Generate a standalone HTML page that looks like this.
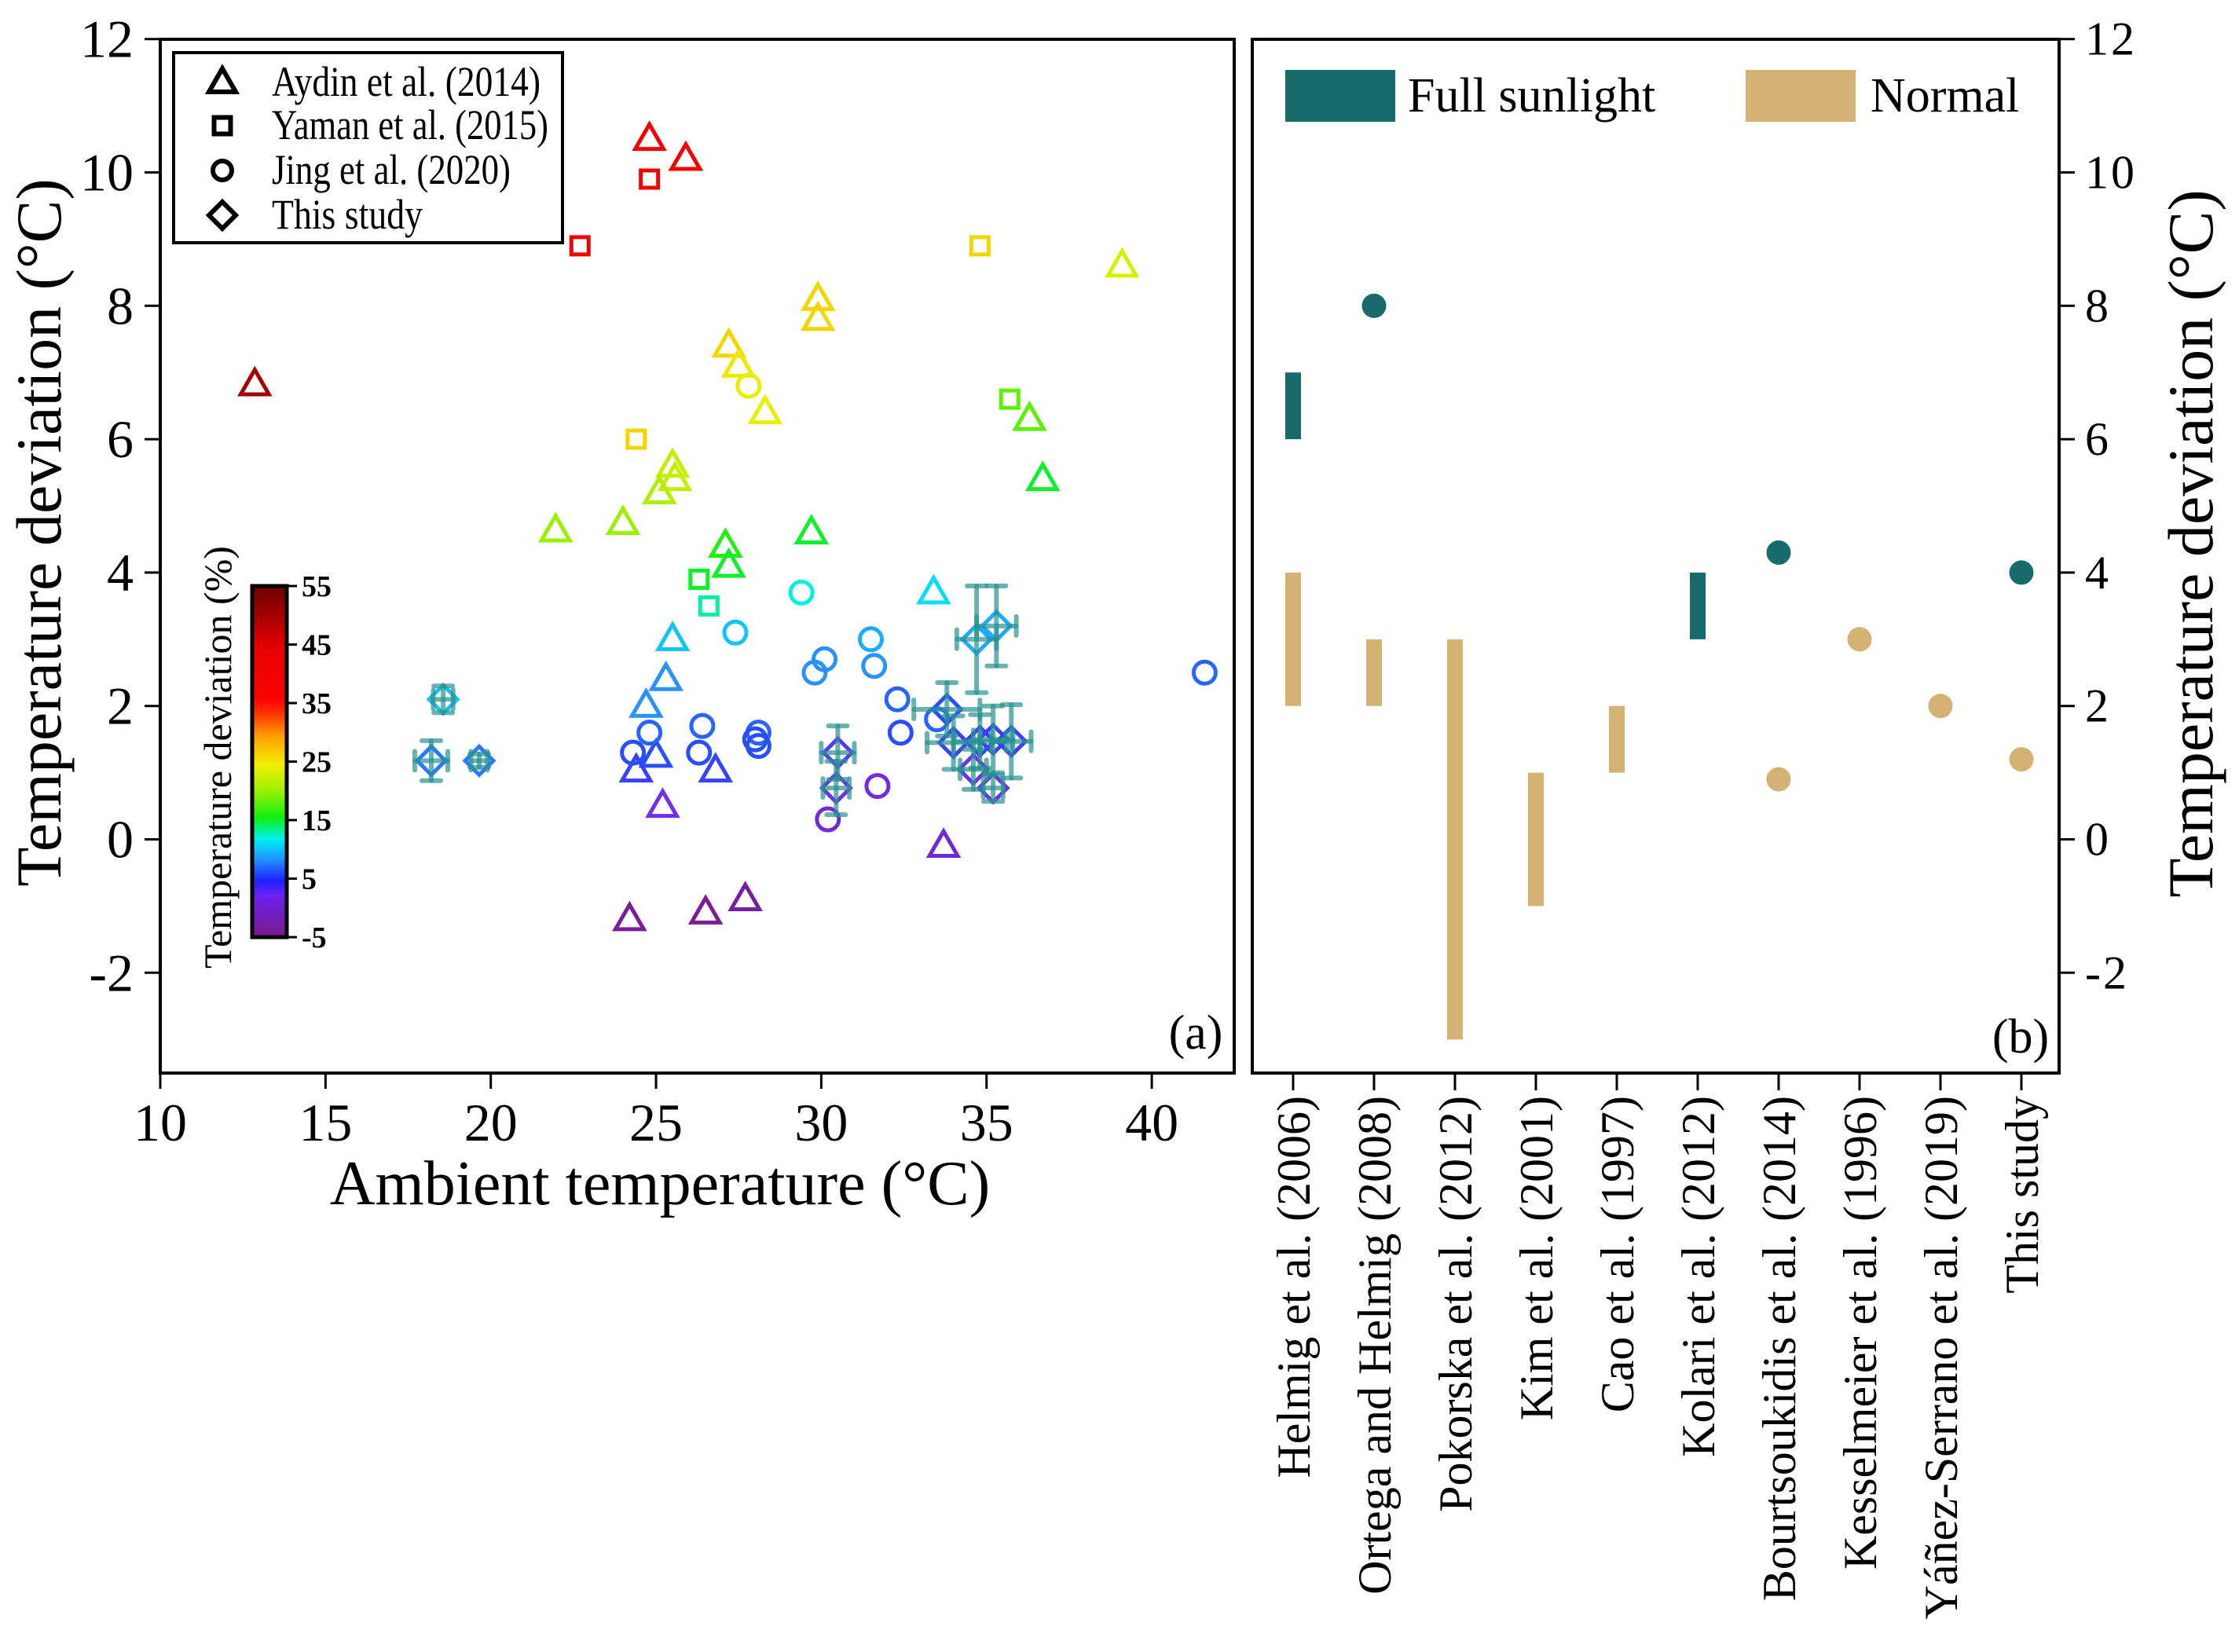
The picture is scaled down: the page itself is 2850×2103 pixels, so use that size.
<!DOCTYPE html>
<html><head><meta charset="utf-8"><style>
html,body{margin:0;padding:0;background:#fff}
svg{display:block;font-family:"Liberation Serif",serif}
</style></head><body>
<svg id="chart" width="2850" height="2103" viewBox="0 0 2850 2103" xmlns="http://www.w3.org/2000/svg">
<defs>
<linearGradient id="cbar" x1="0" y1="1" x2="0" y2="0">
<stop offset="0" stop-color="#7a1a8a"/>
<stop offset="0.12" stop-color="#6a20f0"/>
<stop offset="0.16" stop-color="#2020ff"/>
<stop offset="0.22" stop-color="#2090ff"/>
<stop offset="0.28" stop-color="#00f0f0"/>
<stop offset="0.34" stop-color="#10f010"/>
<stop offset="0.42" stop-color="#a0f000"/>
<stop offset="0.49" stop-color="#f0f000"/>
<stop offset="0.57" stop-color="#ffa000"/>
<stop offset="0.64" stop-color="#ff3000"/>
<stop offset="0.68" stop-color="#ff0000"/>
<stop offset="0.82" stop-color="#e80000"/>
<stop offset="1" stop-color="#6a0000"/>
</linearGradient>
</defs>
<g id="panelA"></g>
<g id="panelB"></g>
</svg>
<script>
// ---- Panel (a) data ----
const triX = [12.86,24.8,25.9,21.96,24.0,25.5,25.57,25.1,27.2,27.5,28.3,29.9,29.9,39.1,36.3,36.7,29.7,27.1,27.2,33.4,25.5,25.3,24.7,25.0,24.4,26.8,25.2,33.7,24.2,26.5,27.7];
const triY = [6.82,10.5,10.2,4.63,4.74,5.6,5.4,5.2,7.4,7.1,6.4,8.1,7.8,8.6,6.3,5.4,4.6,4.4,4.1,3.7,3.0,2.4,2.0,1.25,1.03,1.03,0.5,-0.1,-1.2,-1.1,-0.9];
const triC = [50,40,40,20,20,22,22,21,26,25,24,26,26,23,18,15,15,16,15,11,10,8,8,5,4,4,2,0,-4,-4,-3];
const sqX = [24.8,22.7,24.4,34.8,35.7,26.3,26.6];
const sqY = [9.9,8.9,6.0,8.9,6.6,3.9,3.5];
const sqC = [40,40,26,26,18,15,13];
const ciX = [27.8,29.4,27.4,31.5,30.1,29.8,31.6,41.6,32.3,33.5,32.4,24.8,24.3,26.4,26.3,28.1,28.0,28.1,31.7,30.2];
const ciY = [6.8,3.7,3.1,3.0,2.7,2.5,2.6,2.5,2.1,1.8,1.6,1.6,1.3,1.7,1.3,1.6,1.5,1.4,0.8,0.3];
const ciC = [24,12,10,9,8,8,8,6,6,6,5,6,5,6,5,6,5,5,1,0];
const diX = [18.2,19.65,18.56,34.7,35.3,33.8,30.5,30.45,34.0,34.8,35.2,35.75,34.6,35.2];
const diY = [1.18,1.18,2.1,3.0,3.2,1.95,1.3,0.77,1.45,1.47,1.5,1.47,1.05,0.77];
const diC = [7,7,10,9,9,5,3,2,4,4,4,4,2,2];
const diXerr = [0.5,0.25,0.3,0.6,0.6,1.0,0.5,0.4,0.8,0.8,0.6,0.6,0.4,0.3];
const diYerr = [0.3,0.1,0.2,0.8,0.6,0.4,0.4,0.4,0.4,0.4,0.5,0.55,0.3,0.2];
const xTicksA = [10,15,20,25,30,35,40];
const yTicks = [-2,0,2,4,6,8,10,12];
const cbTicks = [-5,5,15,25,35,45,55];
// ---- Panel (b) data ----
const cats = ["Helmig et al. (2006)","Ortega and Helmig (2008)","Pokorska et al. (2012)","Kim et al. (2001)","Cao et al. (1997)","Kolari et al. (2012)","Bourtsoukidis et al. (2014)","Kesselmeier et al. (1996)","Yáñez-Serrano et al. (2019)","This study"];
const fullBarIdx = [0,5];
const fullBarLo = [6,3];
const fullBarHi = [7,4];
const fullDotIdx = [1,6,9];
const fullDotVal = [8,4.3,4];
const normBarIdx = [0,1,2,3,4];
const normBarLo = [2,2,-3,-1,1];
const normBarHi = [4,3,3,1,2];
const normDotIdx = [6,7,8,9];
const normDotVal = [0.9,3,2,1.2];

const NS="http://www.w3.org/2000/svg";
function mk(tag,attrs,parent,name,inter){const e=document.createElementNS(NS,tag);for(const k in attrs)e.setAttribute(k,attrs[k]);


parent.appendChild(e);return e;}
const A=document.getElementById('panelA'), B=document.getElementById('panelB');
const AX0=204, AX1=1571, TOP=50, BOT=1366;
function xA(v){return AX0+(v-10)*42.07;}
function yV(v){return 1068.5-v*84.9;}
const BX0=1594, BX1=2621;
function xB(i){return 1646+i*103;}

const cstops=[[-5,[122,26,138]],[2.2,[112,48,240]],[4.6,[40,70,255]],[8.2,[40,150,255]],[11.8,[0,240,240]],[15.4,[16,240,16]],[20.2,[160,240,0]],[24.4,[240,240,0]],[29.2,[255,160,0]],[33.4,[255,48,0]],[35.8,[255,0,0]],[44.2,[232,0,0]],[55,[106,0,0]]];
function cmap(v){if(v<=cstops[0][0])return 'rgb('+cstops[0][1]+')';for(let i=1;i<cstops.length;i++){if(v<=cstops[i][0]){const a=cstops[i-1],b=cstops[i];const t=(v-a[0])/(b[0]-a[0]);const c=a[1].map((x,j)=>Math.round(x+(b[1][j]-x)*t));return 'rgb('+c.join(',')+')';}}return 'rgb('+cstops[cstops.length-1][1]+')';}

mk('rect',{x:AX0,y:TOP,width:AX1-AX0,height:BOT-TOP,fill:'none',stroke:'#000','stroke-width':4},A,'panel-a-frame',false);
xTicksA.forEach(t=>{const x=xA(t);mk('line',{x1:x,y1:BOT,x2:x,y2:BOT+20,stroke:'#000','stroke-width':3},A,'x-tick',false);
const tx=mk('text',{x:x,y:1452,'font-size':68,'text-anchor':'middle'},A,'x-tick-label',false);tx.textContent=t;});
yTicks.forEach(t=>{const y=yV(t);mk('line',{x1:AX0-20,y1:y,x2:AX0,y2:y,stroke:'#000','stroke-width':3},A,'y-tick',false);
const tx=mk('text',{x:170,y:y+23,'font-size':68,'text-anchor':'end'},A,'y-tick-label',false);tx.textContent=t;});
let t=mk('text',{x:840,y:1533,'font-size':80,'text-anchor':'middle'},A,'x-axis-title',false);t.textContent='Ambient temperature (°C)';
t=mk('text',{x:0,y:0,'font-size':82,'text-anchor':'middle',transform:'translate(77,678) rotate(-90)'},A,'y-axis-title',false);t.textContent='Temperature deviation (°C)';
t=mk('text',{x:1522,y:1335,'font-size':62,'text-anchor':'middle'},A,'panel-a-label',false);t.textContent='(a)';

function tri(g,cx,cy,s,col,name,sw){const h=s*0.87;mk('polygon',{points:`${cx},${cy-h*0.6} ${cx+s/2},${cy+h*0.4} ${cx-s/2},${cy+h*0.4}`,fill:'none',stroke:col,'stroke-width':sw||5,'stroke-linejoin':'miter'},g,name,false);}
function sq(g,cx,cy,s,col,name,sw){mk('rect',{x:cx-s/2,y:cy-s/2,width:s,height:s,fill:'none',stroke:col,'stroke-width':sw||5},g,name,false);}
function ci(g,cx,cy,r,col,name,sw){mk('circle',{cx:cx,cy:cy,r:r,fill:'none',stroke:col,'stroke-width':sw||5},g,name,false);}
function di(g,cx,cy,s,col,name,sw){mk('polygon',{points:`${cx},${cy-s/2} ${cx+s/2},${cy} ${cx},${cy+s/2} ${cx-s/2},${cy}`,fill:'none',stroke:col,'stroke-width':sw||5},g,name,false);}

const gTri=mk('g',{},A,'aydin-series',false);
triX.forEach((v,i)=>tri(gTri,xA(v),yV(triY[i]),36,cmap(triC[i]),'aydin-point'));
const gSq=mk('g',{},A,'yaman-series',false);
sqX.forEach((v,i)=>sq(gSq,xA(v),yV(sqY[i]),22,cmap(sqC[i]),'yaman-point'));
const gCi=mk('g',{},A,'jing-series',false);
ciX.forEach((v,i)=>ci(gCi,xA(v),yV(ciY[i]),14,cmap(ciC[i]),'jing-point'));
const gDi=mk('g',{},A,'this-study-series',false);
diX.forEach((v,i)=>di(gDi,xA(v),yV(diY[i]),36,cmap(diC[i]),'this-study-point'));
const gEr=mk('g',{stroke:'rgba(40,145,145,0.7)','stroke-width':6,'stroke-linecap':'round'},A,'error-bars',false);
diX.forEach((v,i)=>{const cx=xA(v),cy=yV(diY[i]);const x0=xA(v-diXerr[i]),x1=xA(v+diXerr[i]),y0=yV(diY[i]-diYerr[i]),y1=yV(diY[i]+diYerr[i]);
mk('line',{x1:x0,y1:cy,x2:x1,y2:cy},gEr,'x-error-bar',false);
mk('line',{x1:x0,y1:cy-12,x2:x0,y2:cy+12},gEr,'x-error-cap',false);
mk('line',{x1:x1,y1:cy-12,x2:x1,y2:cy+12},gEr,'x-error-cap',false);
mk('line',{x1:cx,y1:y0,x2:cx,y2:y1},gEr,'y-error-bar',false);
mk('line',{x1:cx-12,y1:y0,x2:cx+12,y2:y0},gEr,'y-error-cap',false);
mk('line',{x1:cx-12,y1:y1,x2:cx+12,y2:y1},gEr,'y-error-cap',false);});

const lg=mk('g',{},A,'legend-a',false);
mk('rect',{x:221,y:67,width:495,height:242,fill:'#fff',stroke:'#000','stroke-width':4},lg,'legend-a-box',false);
const lrows=[["Aydin et al. (2014)",'tri'],["Yaman et al. (2015)",'sq'],["Jing et al. (2020)",'ci'],["This study",'di']];
const lbase=[122,177,234,291], lw=[342,352,304,192];
lrows.forEach((r,i)=>{const cy=lbase[i]-17;
if(r[1]=='tri')tri(lg,283,cy,34,'#000','legend-marker',6);if(r[1]=='sq')sq(lg,283,cy,21,'#000','legend-marker',6);if(r[1]=='ci')ci(lg,283,cy,12,'#000','legend-marker',6);if(r[1]=='di')di(lg,283,cy,34,'#000','legend-marker',6);
const tx=mk('text',{x:346,y:lbase[i],'font-size':54,textLength:lw[i],lengthAdjust:'spacingAndGlyphs'},lg,'legend-entry',false);tx.textContent=r[0];});

const cb=mk('g',{},A,'colorbar',false);
mk('rect',{x:321,y:746,width:44,height:447,fill:'url(#cbar)',stroke:'#000','stroke-width':5},cb,'colorbar-gradient',false);
cbTicks.forEach(v=>{const y=1193-(v+5)/60*447;mk('line',{x1:365,y1:y,x2:378,y2:y,stroke:'#000','stroke-width':3},cb,'colorbar-tick',false);
const tx=mk('text',{x:384,y:y+13,'font-size':38,'font-weight':'bold'},cb,'colorbar-tick-label',false);tx.textContent=v;});
t=mk('text',{x:0,y:0,'font-size':50,'text-anchor':'middle',transform:'translate(294,964) rotate(-90)'},cb,'colorbar-title',false);t.textContent='Temperature deviation (%)';

mk('rect',{x:BX0,y:TOP,width:BX1-BX0,height:BOT-TOP,fill:'none',stroke:'#000','stroke-width':4},B,'panel-b-frame',false);
yTicks.forEach(v=>{const y=yV(v);mk('line',{x1:BX1,y1:y,x2:BX1+20,y2:y,stroke:'#000','stroke-width':3},B,'right-y-tick',false);
const tx=mk('text',{x:2654,y:y+20,'font-size':60,'letter-spacing':3},B,'right-y-tick-label',false);tx.textContent=v;});
t=mk('text',{x:0,y:0,'font-size':82,'text-anchor':'middle',transform:'translate(2816,692) rotate(-90)'},B,'right-y-axis-title',false);t.textContent='Temperature deviation (°C)';
cats.forEach((c,i)=>{const x=xB(i);mk('line',{x1:x,y1:BOT,x2:x,y2:BOT+22,stroke:'#000','stroke-width':3},B,'category-tick',false);
const tx=mk('text',{x:0,y:0,'font-size':60,'text-anchor':'end',transform:`translate(${x+21},1395) rotate(-90)`},B,'category-label',false);tx.textContent=c;});
const TEAL='#176b6b', TAN='#d3b273';
normBarIdx.forEach((ci_,k)=>{mk('rect',{x:xB(ci_)-10,y:yV(normBarHi[k]),width:20,height:yV(normBarLo[k])-yV(normBarHi[k]),fill:TAN},B,'normal-range-bar',false);});
fullBarIdx.forEach((ci_,k)=>{mk('rect',{x:xB(ci_)-10,y:yV(fullBarHi[k]),width:20,height:yV(fullBarLo[k])-yV(fullBarHi[k]),fill:TEAL},B,'full-sunlight-range-bar',false);});
normDotIdx.forEach((ci_,k)=>{mk('circle',{cx:xB(ci_),cy:yV(normDotVal[k]),r:15.5,fill:TAN},B,'normal-point',false);});
fullDotIdx.forEach((ci_,k)=>{mk('circle',{cx:xB(ci_),cy:yV(fullDotVal[k]),r:15.5,fill:TEAL},B,'full-sunlight-point',false);});
const lb=mk('g',{},B,'legend-b',false);
mk('rect',{x:1636,y:89,width:140,height:66,fill:TEAL},lb,'legend-full-sunlight-swatch',false);
t=mk('text',{x:1792,y:142,'font-size':62},lb,'legend-full-sunlight-label',false);t.textContent='Full sunlight';
mk('rect',{x:2222,y:89,width:140,height:66,fill:TAN},lb,'legend-normal-swatch',false);
t=mk('text',{x:2381,y:142,'font-size':62},lb,'legend-normal-label',false);t.textContent='Normal';
t=mk('text',{x:2572,y:1340,'font-size':62,'text-anchor':'middle'},B,'panel-b-label',false);t.textContent='(b)';
</script>
</body></html>
